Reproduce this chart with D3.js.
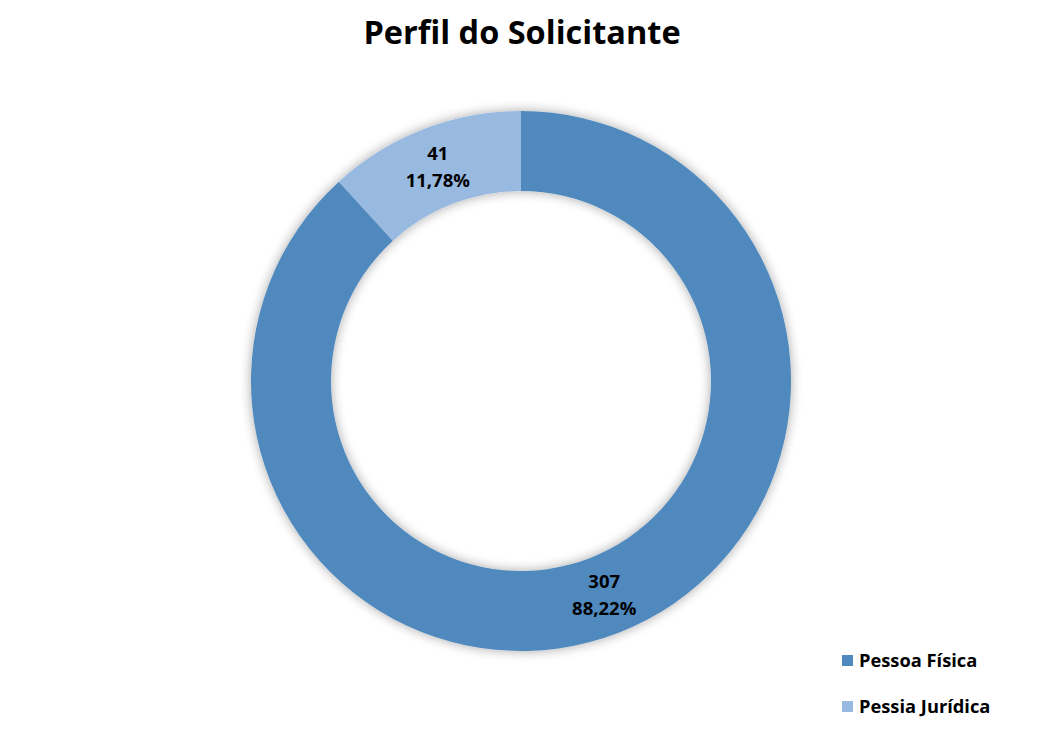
<!DOCTYPE html>
<html>
<head>
<meta charset="utf-8">
<script src="https://cdn.jsdelivr.net/npm/d3@7"></script>
<style>
  html, body { margin: 0; padding: 0; background: #fff; }
  svg { display: block; font-family: "Open Sans", Lato, sans-serif; }
</style>
</head>
<body>
<svg id="chart" width="1040" height="739"></svg>
<script>
const title = "Perfil do Solicitante";
const categories = ["Pessoa Física", "Pessia Jurídica"];
const values = [307, 41];
const percentLabels = ["88,22%", "11,78%"];
const colors = ["#4f89bd", "#98b9e0"];

const svg = d3.select("#chart");
const cx = 521, cy = 381, outerR = 270, innerR = 190;

const defs = svg.append("defs");
const f = defs.append("filter").attr("id", "glow")
  .attr("x", "-20%").attr("y", "-20%").attr("width", "140%").attr("height", "140%");
f.append("feGaussianBlur").attr("in", "SourceAlpha").attr("stdDeviation", 6).attr("result", "b");
f.append("feComponentTransfer").attr("in", "b").attr("result", "b2")
  .append("feFuncA").attr("type", "linear").attr("slope", 0.35);
const fm = f.append("feMerge");
fm.append("feMergeNode").attr("in", "b2");
fm.append("feMergeNode").attr("in", "SourceGraphic");

svg.append("text")
  .attr("x", 522).attr("y", 44)
  .attr("text-anchor", "middle")
  .attr("font-size", 32.5).attr("font-weight", "bold")
  .attr("fill", "#000")
  .text(title);

const pie = d3.pie().value(d => d).sort(null);
const arcs = pie(values);
const arc = d3.arc().innerRadius(innerR).outerRadius(outerR);
const color = d3.scaleOrdinal().domain(categories).range(colors);

const g = svg.append("g").attr("transform", `translate(${cx},${cy})`);
g.append("g").attr("filter", "url(#glow)")
  .selectAll("path").data(arcs).join("path")
  .attr("d", arc)
  .attr("fill", (d, i) => color(categories[i]));

const lbl = g.selectAll("g.lbl").data(arcs).join("g").attr("class", "lbl")
  .attr("transform", d => `translate(${arc.centroid(d)})`);
lbl.append("text").attr("text-anchor", "middle").attr("y", -7)
  .attr("font-size", 18.5).attr("font-weight", "bold").attr("fill", "#000")
  .text(d => d.data);
lbl.append("text").attr("text-anchor", "middle").attr("y", 20)
  .attr("font-size", 18.5).attr("font-weight", "bold").attr("fill", "#000")
  .text((d, i) => percentLabels[i]);

const leg = svg.append("g").selectAll("g").data(categories).join("g")
  .attr("transform", (d, i) => `translate(842, ${655 + i * 46})`);
leg.append("rect").attr("width", 11).attr("height", 11).attr("fill", d => color(d));
leg.append("text").attr("x", 17).attr("y", 12)
  .attr("font-size", 18.3).attr("font-weight", "bold").attr("fill", "#000")
  .text(d => d);
</script>
</body>
</html>
